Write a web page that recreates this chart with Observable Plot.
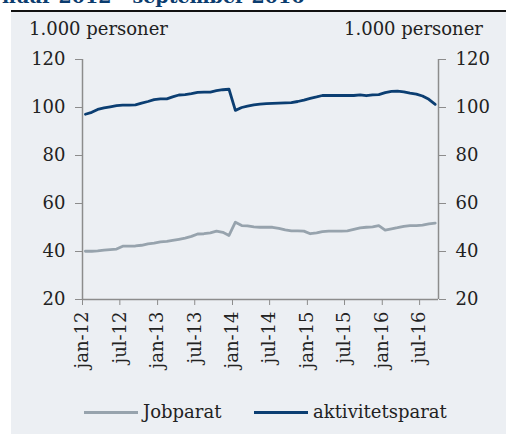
<!DOCTYPE html>
<html><head><meta charset="utf-8">
<script src="https://cdn.jsdelivr.net/npm/d3@7"></script>
<script src="https://cdn.jsdelivr.net/npm/@observablehq/plot@0.6"></script>
<style>
body{margin:0;background:#fff;width:506px;height:434px;overflow:hidden;position:relative;font-family:"DejaVu Serif",serif;}
#title{position:absolute;left:2px;top:-15px;font-weight:bold;font-size:19px;color:#0b3c6e;white-space:nowrap;line-height:22px;}
#rule{position:absolute;left:11px;top:10px;width:495px;height:2px;background:#111;}
#panel{position:absolute;left:11px;top:12px;width:495px;height:422px;background:#eceff3;}
#chart{position:absolute;left:0;top:0;}
.unit{position:absolute;top:6px;font-size:18px;color:#222;white-space:nowrap;line-height:22px;}
.leg{position:absolute;top:389px;font-size:18px;color:#222;white-space:nowrap;display:flex;align-items:center;line-height:22px;}
.sw{display:inline-block;width:54px;height:3px;margin-right:5px;}
</style>
</head><body>
<div id="title">nuar 2012 - september 2016</div>
<div id="rule"></div>
<div id="panel">
  <div id="chart"></div>
  <div class="unit" style="left:18px">1.000 personer</div>
  <div class="unit" style="left:333px">1.000 personer</div>
  <div id="legend"></div>
</div>
<script>
// Data: monthly values, jan 2012 .. sep 2016 (1.000 personer)
const startYear = 2012;
const seriesNames = ["Jobparat", "aktivitetsparat"];
const seriesColors = ["#97a3ad", "#0b3e72"];
const jobparat = [
  40.1, 40.1, 40.3, 40.6, 40.8, 41.0, 42.2, 42.2, 42.3, 42.6, 43.2, 43.5,
  44.0, 44.2, 44.6, 45.1, 45.6, 46.3, 47.3, 47.4, 47.8, 48.5, 48.0, 46.7,
  52.2, 50.8, 50.7, 50.3, 50.1, 50.1, 50.1, 49.6, 49.0, 48.6, 48.6, 48.5,
  47.4, 47.8, 48.3, 48.5, 48.5, 48.5, 48.6, 49.2, 49.8, 50.1, 50.3, 50.8,
  48.9, 49.4, 49.9, 50.5, 50.8, 50.8, 51.0, 51.5, 51.8
];
const aktivitetsparat = [
  97.2, 98.0, 99.2, 99.8, 100.3, 100.8, 101.0, 101.0, 101.1, 101.8, 102.5, 103.3,
  103.6, 103.6, 104.4, 105.2, 105.4, 105.8, 106.3, 106.4, 106.4, 107.0, 107.4, 107.6,
  98.8, 100.0, 100.6, 101.1, 101.4, 101.6, 101.7, 101.8, 101.9, 102.0, 102.5, 103.1,
  103.8, 104.4, 105.0, 105.0, 105.0, 105.0, 105.0, 105.0, 105.3, 104.9, 105.3, 105.4,
  106.2, 106.7, 106.8, 106.5, 106.0, 105.6, 104.8, 103.4, 101.3
];
const tickLabels = ["jan-12","jul-12","jan-13","jul-13","jan-14","jul-14","jan-15","jul-15","jan-16","jul-16"];
const yTicks = [20, 40, 60, 80, 100, 120];

const monthDate = i => new Date(Date.UTC(startYear, i, 15));
const tickDates = tickLabels.map((_, i) => new Date(Date.UTC(startYear, i * 6, 1)));
const xDomain = [new Date(Date.UTC(2012, 0, 1)), new Date(Date.UTC(2016, 9, 1))];
const rows = [];
[jobparat, aktivitetsparat].forEach((vals, s) => vals.forEach((v, i) => rows.push({series: seriesNames[s], date: monthDate(i), value: v})));

const axisColor = "#8c8c8c";
const chart = Plot.plot({
  width: 495, height: 378,
  marginLeft: 71, marginRight: 68, marginTop: 47, marginBottom: 91,
  style: {background: "transparent", fontFamily: "DejaVu Serif", fontSize: "18px", color: "#222", overflow: "visible"},
  x: {type: "utc", domain: xDomain},
  y: {domain: [20, 120]},
  marks: [
    Plot.ruleX([xDomain[0], xDomain[1]], {stroke: axisColor, strokeWidth: 1.5}),
    Plot.ruleY([20], {stroke: axisColor, strokeWidth: 1.5}),
    Plot.axisY({anchor: "left", ticks: yTicks, tickSize: 7, tickPadding: 10, stroke: axisColor, fill: "#222", label: null}),
    Plot.axisY({anchor: "right", ticks: yTicks, tickSize: 7, tickPadding: 10, stroke: axisColor, fill: "#222", label: null}),
    Plot.axisX({ticks: tickDates, tickFormat: d => tickLabels[tickDates.findIndex(t => +t === +d)], tickRotate: -90, tickSize: 6, tickPadding: 6, stroke: axisColor, fill: "#222", label: null}),
    ...seriesNames.map((name, s) => Plot.line(rows.filter(r => r.series === name), {x: "date", y: "value", stroke: seriesColors[s], strokeWidth: 2.8}))
  ]
});
document.getElementById("chart").appendChild(chart);

const legend = document.getElementById("legend");
const legLeft = [73, 243];
seriesNames.forEach((name, s) => {
  const d = document.createElement("div");
  d.className = "leg";
  d.style.left = legLeft[s] + "px";
  d.innerHTML = `<span class="sw" style="background:${seriesColors[s]}"></span><span>${name}</span>`;
  legend.appendChild(d);
});
</script>
</body></html>
